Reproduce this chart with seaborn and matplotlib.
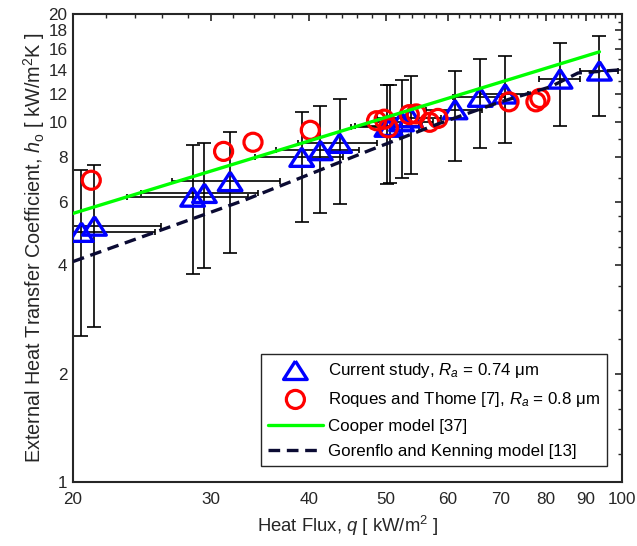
import numpy as np
import pandas as pd
import matplotlib
matplotlib.use("Agg")
import matplotlib.pyplot as plt
from matplotlib.markers import MarkerStyle
from matplotlib.ticker import FixedLocator, NullFormatter, FixedFormatter
import seaborn as sns

# ---------------- data ----------------
# Current study (triangles) with error bars
q_current = [20.5, 21.3, 28.4, 29.4, 31.7, 39.1, 41.3, 43.7, 50.2, 50.7,
             52.4, 53.8, 61.3, 66.0, 71.0, 83.4, 93.6]
h_current = [4.95, 5.15, 6.2, 6.35, 6.85, 8.0, 8.35, 8.75, 9.7, 9.75,
             10.05, 10.3, 10.85, 11.75, 12.0, 13.2, 13.9]
h_err = [2.41, 2.45, 2.42, 2.42, 2.53, 2.71, 2.77, 2.84, 2.96, 2.96,
         3.05, 3.12, 3.06, 3.28, 3.24, 3.44, 3.47]
q_err = [4.9, 4.6, 5.0, 5.0, 5.0, 5.0, 5.0, 5.0, 5.0, 5.0,
         5.0, 5.0, 5.0, 5.0, 5.0, 4.9, 5.2]

# Roques and Thome (circles)
q_roques = [21.1, 31.1, 33.9, 40.1, 48.7, 49.8, 50.4, 53.6, 54.7, 56.9,
            58.3, 71.8, 77.7, 78.6]
h_roques = [6.9, 8.3, 8.8, 9.5, 10.1, 10.2, 9.65, 10.5, 10.55, 10.0,
            10.25, 11.4, 11.4, 11.65]

# Cooper model (solid green)
q_cooper = [20.0, 93.6]
h_cooper = [5.58, 15.7]

# Gorenflo and Kenning model (dashed)
q_goren = [20.0, 33.1, 47.8, 58.7, 70.0, 81.0, 87.9, 100.0]
h_goren = [4.10, 6.08, 8.37, 9.95, 11.39, 12.54, 13.71, 14.0]

x_ticks = [20, 30, 40, 50, 60, 70, 80, 90, 100]
x_minor = [22, 24, 26, 28, 32, 34, 36, 38, 42, 44, 46, 48, 52, 54, 56, 58,
           62, 64, 66, 68, 72, 74, 76, 78, 82, 84, 86, 88, 92, 94, 96, 98]
y_ticks = [1, 2, 4, 6, 8, 10, 12, 14, 16, 18, 20]
y_minor = [1.2, 1.4, 1.6, 1.8, 2.5, 3, 3.5, 4.5, 5, 5.5, 7, 9, 11, 13, 15,
           17, 19]

labels = ['Current study, $R_a$ = 0.74 μm',
          'Roques and Thome [7], $R_a$ = 0.8 μm',
          'Cooper model [37]',
          'Gorenflo and Kenning model [13]']

# ---------------- style ----------------
sns.set_theme(style="white")
plt.rcParams['font.family'] = ['Liberation Sans', 'DejaVu Sans']
plt.rcParams['mathtext.fontset'] = 'custom'
plt.rcParams['mathtext.rm'] = 'Liberation Sans'
plt.rcParams['mathtext.it'] = 'Liberation Sans:italic'
plt.rcParams['mathtext.bf'] = 'Liberation Sans:bold'
text_color = '#262626'

fig = plt.figure(figsize=(6.37, 5.46), dpi=100)
ax = fig.add_axes([73 / 637, 1 - 482 / 546, 549 / 637, 468 / 546])

df_cur = pd.DataFrame({'q': q_current, 'h': h_current})
df_rt = pd.DataFrame({'q': q_roques, 'h': h_roques})
df_co = pd.DataFrame({'q': q_cooper, 'h': h_cooper})
df_go = pd.DataFrame({'q': q_goren, 'h': h_goren})

# error bars
ax.errorbar(q_current, h_current, yerr=h_err, fmt='none', ecolor='black',
            elinewidth=1.2, capsize=5.2, capthick=1.2, zorder=2)
ax.errorbar(q_current, h_current, xerr=q_err, fmt='none', ecolor='black',
            elinewidth=1.2, capsize=2.5, capthick=1.2, zorder=2)

tri = MarkerStyle([(0, 0.78), (-1, -0.78), (1, -0.78), (0, 0.78)])
sns.scatterplot(data=df_cur, x='q', y='h', ax=ax, marker=tri, s=17 ** 2,
                facecolors='none', edgecolors='#0000FF', linewidths=2.4,
                label=labels[0], zorder=3)
sns.scatterplot(data=df_rt, x='q', y='h', ax=ax, marker='o', s=13 ** 2,
                facecolors='none', edgecolors='#FF0000', linewidths=2.3,
                label=labels[1], zorder=4)
sns.lineplot(data=df_co, x='q', y='h', ax=ax, color='#00FF00', lw=2.4,
             label=labels[2], sort=False, estimator=None, zorder=6)
sns.lineplot(data=df_go, x='q', y='h', ax=ax, color='#0b0b33', lw=2.4,
             dashes=False, label=labels[3], sort=False, estimator=None,
             zorder=5)
ax.lines[-1].set_dashes((3.5, 2.0))

ax.set_xscale('log')
ax.set_yscale('log')
ax.set_xlim(20, 100)
ax.set_ylim(1, 20)

ax.xaxis.set_major_locator(FixedLocator(x_ticks))
ax.xaxis.set_major_formatter(FixedFormatter([str(v) for v in x_ticks]))
ax.xaxis.set_minor_locator(FixedLocator(x_minor))
ax.xaxis.set_minor_formatter(NullFormatter())
ax.yaxis.set_major_locator(FixedLocator(y_ticks))
ax.yaxis.set_major_formatter(FixedFormatter([str(v) for v in y_ticks]))
ax.yaxis.set_minor_locator(FixedLocator(y_minor))
ax.yaxis.set_minor_formatter(NullFormatter())

ax.tick_params(which='both', direction='in', top=True, right=True,
               colors=text_color, labelcolor=text_color, labelsize=12.3)
ax.tick_params(which='major', length=5, width=1.2)
ax.tick_params(which='minor', length=2.8, width=1.0)
ax.tick_params(axis='x', which='major', pad=7)
ax.tick_params(axis='y', which='major', pad=4)
for sp in ax.spines.values():
    sp.set_visible(True)
    sp.set_color(text_color)
    sp.set_linewidth(1.5)

ax.set_xlabel(r'Heat Flux, $q$ [ kW/m$^{2}$ ]', fontsize=13.3,
              color=text_color, labelpad=5)
ax.set_ylabel(r'External Heat Transfer Coefficient, $h_{\mathrm{o}}$ [ kW/m$^{2}$K ]',
              fontsize=14.3, color=text_color, labelpad=1)

leg = ax.legend(loc='lower right', bbox_to_anchor=(0.9727, 0.0342),
                borderaxespad=0, fontsize=12.2, frameon=True, fancybox=False,
                edgecolor='#262626', handlelength=3.25, handletextpad=0.3,
                borderpad=0.4, labelspacing=0.6, framealpha=1)
leg.get_frame().set_linewidth(1.0)
for t in leg.get_texts():
    t.set_color('black')

fig.savefig('out.png', dpi=100)
